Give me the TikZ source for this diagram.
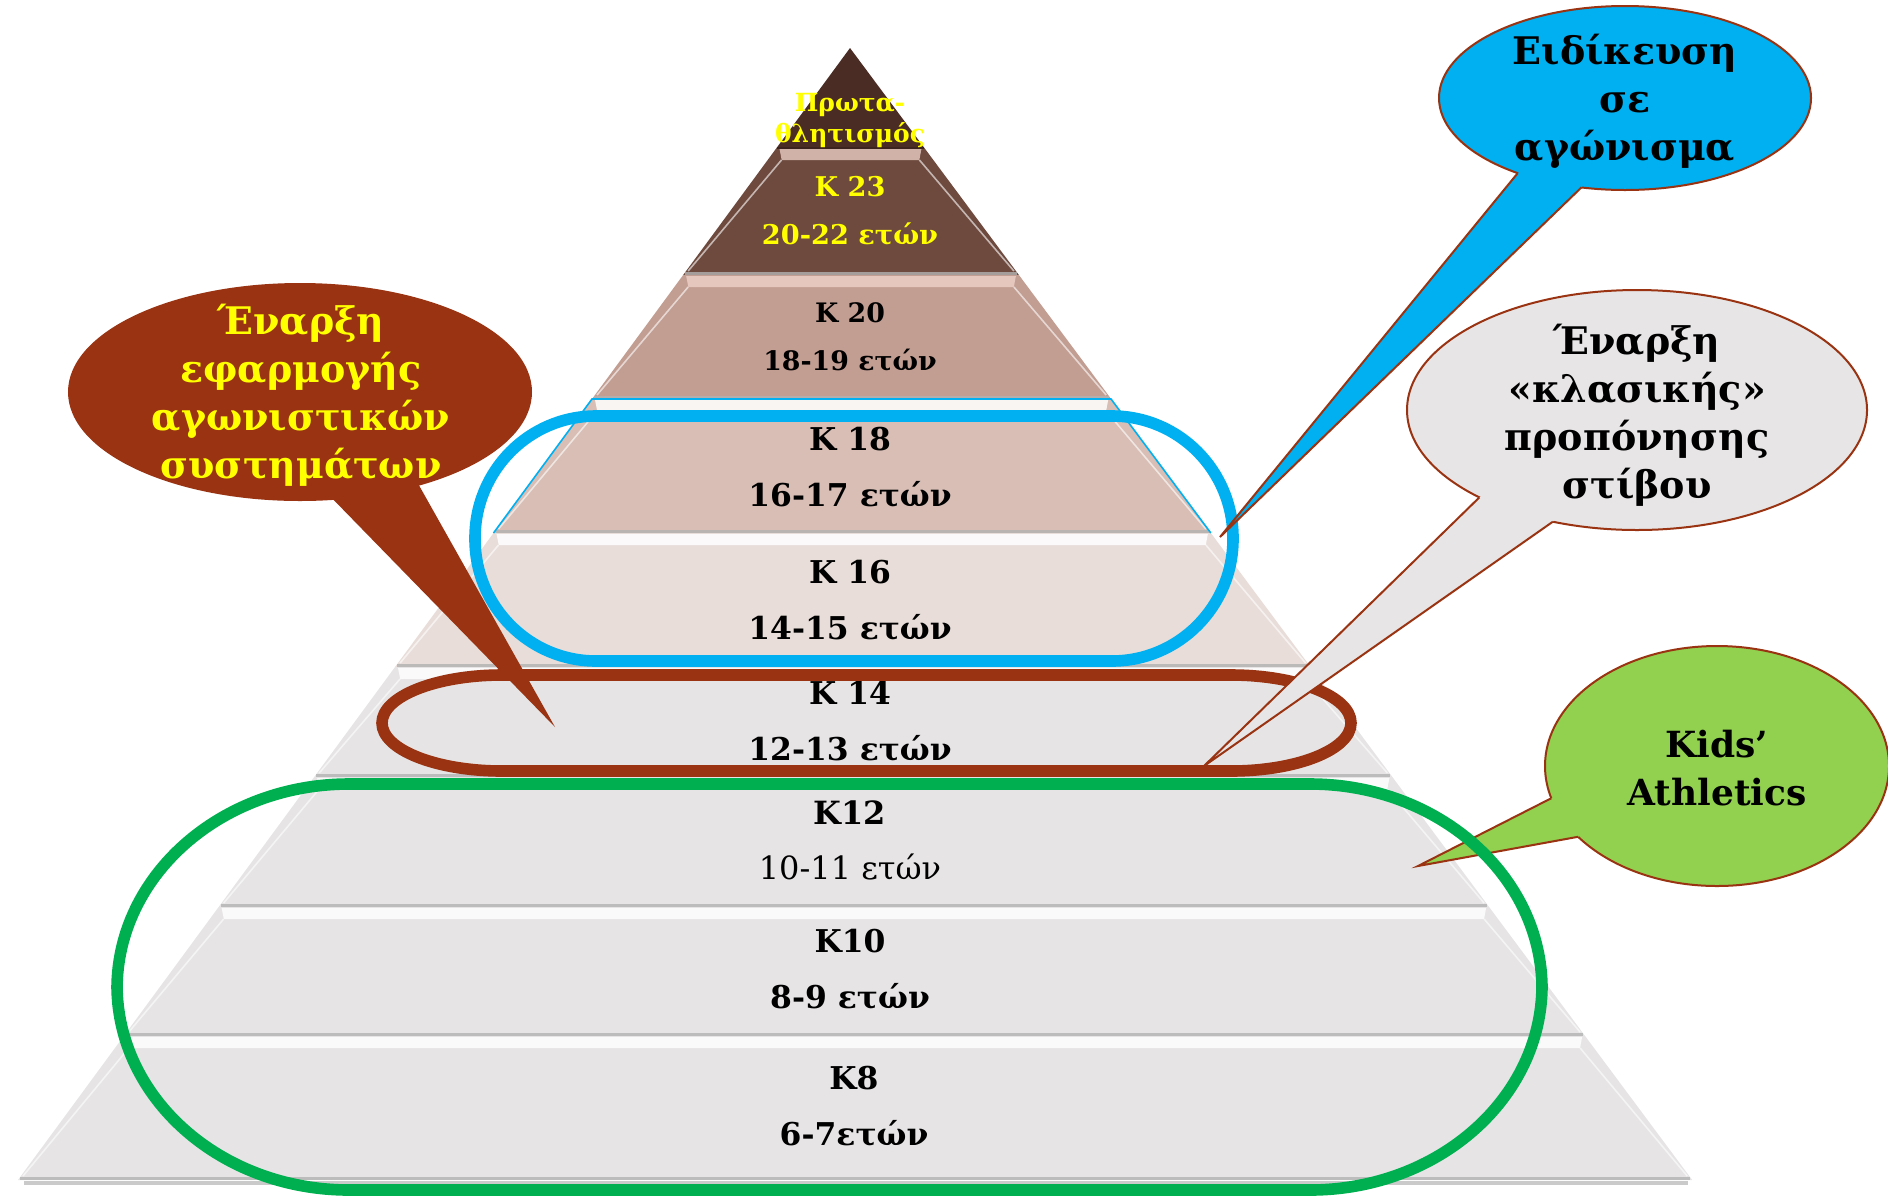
\documentclass[tikz,border=0pt]{standalone}
\usepackage{fontspec}
\setmainfont{DejaVu Serif}
\usetikzlibrary{shapes.geometric}
\definecolor{ringbrown}{HTML}{993311}
\definecolor{ringcyan}{HTML}{00B0F0}
\definecolor{ringgreen}{HTML}{00B050}
\definecolor{calgreen}{HTML}{92D050}
\definecolor{calgray}{HTML}{E7E5E6}
\definecolor{toptri}{HTML}{4B2C24}
\definecolor{layA}{HTML}{6E4A3E}
\definecolor{layB}{HTML}{C29D92}
\definecolor{layC}{HTML}{D8BEB5}
\definecolor{layD}{HTML}{E8DDD9}
\definecolor{layE}{HTML}{E6E4E5}
\definecolor{txtyellow}{HTML}{FFFF00}
\definecolor{bevelpink}{HTML}{F2D6CE}

\newcommand{\pyrlayer}[4]{%
  \pgfmathsetmacro{\xla}{850-0.735*(#1-48)}%
  \pgfmathsetmacro{\xra}{850+0.744*(#1-48)}%
  \pgfmathsetmacro{\xlb}{850-0.735*(#2-48)}%
  \pgfmathsetmacro{\xrb}{850+0.744*(#2-48)}%
  \pgfmathsetmacro{\xlc}{850-0.735*(#1+12-48)+14}%
  \pgfmathsetmacro{\xrc}{850+0.744*(#1+12-48)-14}%
  \fill[#3] (\xla,#1) -- (\xra,#1) -- (\xrb,#2) -- (\xlb,#2) -- cycle;
  \draw[white, opacity=0.6, line width=0.8pt] (\xla+5,#1+12) -- (\xlb+5,#2-4);
  \draw[white, opacity=0.6, line width=0.8pt] (\xra-5,#1+12) -- (\xrb-5,#2-4);
  \draw[black!30, opacity=0.8, line width=1.5pt] (\xlb+2,#2-1.5) -- (\xrb-2,#2-1.5);
  \fill[#4] (\xla+3,#1+1) -- (\xra-3,#1+1) -- (\xrc,#1+12) -- (\xlc,#1+12) -- cycle;
}
\newcommand{\pill}[7]{%
  \draw[#1] (#2+#6,#3) -- (#4-#6,#3)
    arc[start angle=-90,end angle=0,x radius=#6,y radius=#7] -- (#4,#5-#7)
    arc[start angle=0,end angle=90,x radius=#6,y radius=#7] -- (#2+#6,#5)
    arc[start angle=90,end angle=180,x radius=#6,y radius=#7] -- (#2,#3+#7)
    arc[start angle=180,end angle=270,x radius=#6,y radius=#7] -- cycle;}

\begin{document}
\begin{tikzpicture}[x=0.5pt,y=-0.5pt,
  lbl/.style={align=center, inner sep=0pt},
  bigbold/.style={font=\fontsize{15.7}{28}\selectfont\bfseries},
  ring/.style={line width=5.8pt},
  bevelw/.style={fill=white, opacity=0.85},
  bevelp/.style={fill=bevelpink, opacity=0.75},
  bubble/.style={ellipse, draw=ringbrown, line width=1pt, inner sep=0pt, outer sep=0pt},
  tailline/.style={draw=ringbrown, line width=1pt, line join=miter},
  caltext/.style={align=center, inner sep=0pt, font=\fontsize{19}{24}\selectfont\bfseries}]
\useasboundingbox (0,0) rectangle (1888,1195);

% ---------- pyramid ----------
\draw[black!35, opacity=0.6, line width=2pt] (24,1183) -- (1688,1183);
\fill[toptri] (850,48) -- (924.4,148) -- (776.5,148) -- cycle;
\pyrlayer{148}{275}{layA}{bevelp}
\pyrlayer{275}{399}{layB}{bevelp}
\pyrlayer{399}{533}{layC}{bevelw}
\pyrlayer{533}{667}{layD}{bevelw}
\pyrlayer{667}{777}{layE}{bevelw}
\pyrlayer{777}{907}{layE}{bevelw}
\pyrlayer{907}{1036}{layE}{bevelw}
\pyrlayer{1036}{1180}{layE}{bevelw}
\draw[toptri!80!black, line width=1pt] (776.5,148) -- (924.4,148);
\draw[ringcyan, line width=0.8pt] (493.5,533) -- (592,399) -- (1111,399) -- (1210.8,533);

% ---------- layer labels ----------
\node[lbl, text=txtyellow, font=\fontsize{12.5}{15.5}\selectfont\bfseries] (t0) at (850,120) {Πρωτα-\\θλητισμός};
\node[lbl, text=txtyellow, font=\fontsize{13.6}{24}\selectfont\bfseries] (t23) at (850,211) {K 23\\20-22 ετών};
\node[lbl, font=\fontsize{13.4}{24}\selectfont\bfseries] (t20) at (850,337) {K 20\\18-19 ετών};
\node[lbl, bigbold] (t18) at (850,467) {K 18\\16-17 ετών};
\node[lbl, bigbold] (t16) at (850,600) {K 16\\14-15 ετών};
\node[lbl, bigbold] (t14) at (850,721) {K 14\\12-13 ετών};
\node[lbl, font=\fontsize{16}{27.5}\selectfont] (t12) at (850,841) {\textbf{K12}\\10-11 ετών};
\node[lbl, bigbold] (t10) at (850,969) {K10\\8-9 ετών};
\node[lbl, bigbold] (t8) at (854,1106) {K8\\6-7ετών};

% ---------- green callout ----------
\node[bubble, fill=calgreen, minimum width=172pt, minimum height=120pt] (gb) at (1717,766) {};
\coordinate (gtip) at (1418,866);
\fill[calgreen] (gb.191) -- (gtip) -- (gb.207) -- (gb.center) -- cycle;
\draw[tailline] (gb.191) -- (gtip) -- (gb.207);
\node[caltext, font=\fontsize{18}{24}\selectfont\bfseries] (gt) at (1717,768) {Kids’\\Athletics};

% ---------- rings ----------
\pill{ring, ringgreen}{117}{784}{1542}{1190}{232}{205}
\pill{ring, ringcyan}{475}{416}{1233}{661}{121}{122}
\pill{ring, ringbrown}{382}{675}{1351}{771}{120}{48}

% ---------- brown callout ----------
\node[bubble, fill=ringbrown, minimum width=231pt, minimum height=108pt] (bb) at (300,392) {};
\coordinate (btip) at (555,727);
\fill[ringbrown] (bb.287) -- (btip) -- (bb.322) -- (bb.center) -- cycle;
\node[caltext, text=txtyellow] (bt) at (301,395) {Έναρξη\\εφαρμογής\\αγωνιστικών\\συστημάτων};

% ---------- blue callout ----------
\node[bubble, fill=ringcyan, minimum width=186pt, minimum height=92pt] (sb) at (1625,98) {};
\coordinate (stip) at (1220,537);
\fill[ringcyan] (sb.215) -- (stip) -- (sb.244) -- (sb.center) -- cycle;
\draw[tailline] (sb.215) -- (stip) -- (sb.244);
\node[caltext] (st) at (1625,101) {Ειδίκευση\\σε\\αγώνισμα};

% ---------- gray callout ----------
\node[bubble, fill=calgray, minimum width=230pt, minimum height=120pt] (cb) at (1637,410) {};
\coordinate (ctip) at (1204,766);
\fill[calgray] (cb.209) -- (ctip) -- (cb.233) -- (cb.center) -- cycle;
\draw[tailline] (cb.209) -- (ctip) -- (cb.233);
\node[caltext] (ct) at (1637,415) {Έναρξη\\«κλασικής»\\προπόνησης\\στίβου};
\end{tikzpicture}
\end{document}
